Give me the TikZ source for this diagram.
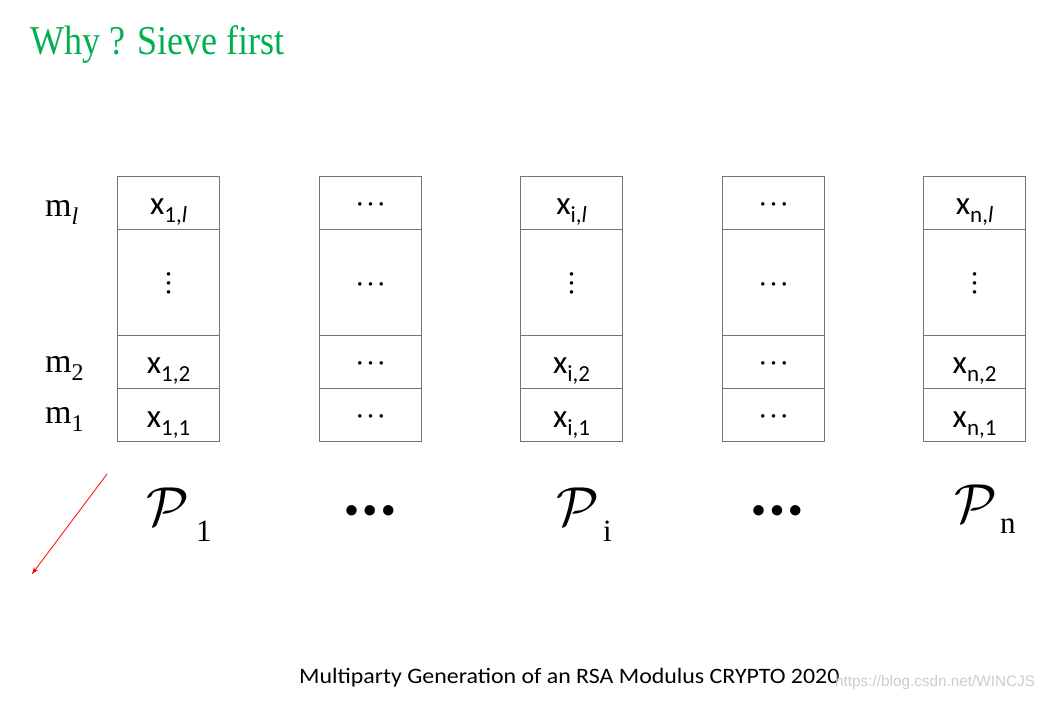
\RequirePackage{fix-cm}
\documentclass[tikz,border=0pt]{standalone}
\usepackage{fontspec}
\setmainfont{Liberation Serif}
\newfontfamily\calib{Carlito}
\newfontfamily\arialf{Liberation Sans}
\usepackage{graphicx}
\usetikzlibrary{arrows.meta}
\definecolor{titlegreen}{RGB}{0,176,80}
\definecolor{boxgray}{RGB}{115,115,115}
\newcommand\csub[1]{\raisebox{-8pt}{\fontsize{23}{23}\selectfont #1}}
\newcommand\msub[1]{\raisebox{-8pt}{\fontsize{24}{24}\selectfont #1}}
\newcommand\hdots{$\bullet$\hspace{6.2pt}$\bullet$\hspace{6.2pt}$\bullet$}
\newcommand\bigdots{$\bullet$\hspace{5pt}$\bullet$\hspace{5pt}$\bullet$}
\begin{document}
\begin{tikzpicture}[x=1pt,y=-1pt,
  cell/.style={draw=boxgray, line width=1.2pt, minimum width=102pt, inner sep=0pt, anchor=north west},
  xlab/.style={anchor=base, inner sep=0pt, font=\calib\fontsize{33}{33}\selectfont},
  mlab/.style={anchor=base west, inner sep=0pt, font=\fontsize{34}{34}\selectfont},
  hdot/.style={anchor=center, inner sep=0pt, font=\fontsize{8.5}{8.5}\selectfont},
  vdot/.style={anchor=center, inner sep=0pt, align=center, font=\fontsize{8.5}{8.7}\selectfont},
  bdot/.style={anchor=center, inner sep=0pt, font=\fontsize{27}{27}\selectfont},
  plab/.style={anchor=base west, inner sep=0pt, font=\fontsize{55}{55}\selectfont},
  psub/.style={anchor=base west, inner sep=0pt, font=\fontsize{31}{31}\selectfont}]
\fill[white] (0,0) rectangle (1044,708);
\useasboundingbox (0,0) rectangle (1044,708);
% title
\node[anchor=base west, inner sep=0pt, text=titlegreen] (title) at (30,55)
  {\scalebox{0.88}[1]{\fontsize{41}{41}\selectfont Why ? Sieve first}};
% cells
\foreach \n/\lx in {a/117, b/319, c/520, d/722, e/923} {
  \node[cell, minimum height=53pt] (\n4) at (\lx,176) {};
  \node[cell, minimum height=106pt] (\n3) at (\lx,229) {};
  \node[cell, minimum height=53pt] (\n2) at (\lx,335) {};
  \node[cell, minimum height=53pt] (\n1) at (\lx,388) {};
}
% data columns
\foreach \n/\s in {a/1, c/i, e/n} {
  \node[xlab] (\n4t) at ([yshift=16pt]\n4.south) {x\csub{\s,\textit{l}}};
  \node[vdot] (\n3t) at ([yshift=-1pt]\n3.center) {$\bullet$\\$\bullet$\\$\bullet$};
  \node[xlab] (\n2t) at ([yshift=16pt]\n2.south) {x\csub{\s,2}};
  \node[xlab] (\n1t) at ([yshift=15pt]\n1.south) {x\csub{\s,1}};
}
% dots columns
\foreach \n in {b, d} {
  \node[hdot] (\n4t) at ([yshift=-1pt]\n4.center) {\hdots};
  \node[hdot] (\n3t) at ([yshift=-2pt]\n3.center) {\hdots};
  \node[hdot] (\n2t) at ([yshift=-1pt]\n2.center) {\hdots};
  \node[hdot] (\n1t) at ([yshift=-1pt]\n1.center) {\hdots};
}
% row labels
\node[mlab] (ml) at (45,217) {m\msub{\textit{l}}};
\node[mlab] (m2) at (45,373) {m\msub{2}};
\node[mlab] (m1) at (45,423) {m\msub{1}};
% party labels
\node[plab] (p1) at (146,525) {$\mathcal{P}$};
\node[psub] (p1s) at (196,541) {1};
\node[plab] (pi) at (556,525) {$\mathcal{P}$};
\node[psub] (pis) at (603,541) {i};
\node[plab] (pn) at (954,522) {$\mathcal{P}$};
\node[psub] (pns) at (1000,533) {n};
\node[bdot] (bd) at (370,511) {\bigdots};
\node[bdot] (dd) at (777,511) {\bigdots};
% red arrow
\coordinate (as) at (107,474);
\coordinate (ae) at (32,574);
\draw[red, line width=0.8pt, -{Stealth[length=7pt,width=5pt]}] (as) -- (ae);
% footer
\node[anchor=base west, inner sep=0pt] (foot) at (299,683)
  {\scalebox{1.085}[1]{\calib\fontsize{22}{24}\selectfont Multiparty Generation of an RSA Modulus CRYPTO 2020}};
\node[anchor=base west, inner sep=0pt, text=black!20] (wm) at (835,686)
  {\arialf\fontsize{15.3}{16}\selectfont https://blog.csdn.net/WINCJS};
\end{tikzpicture}
\end{document}
